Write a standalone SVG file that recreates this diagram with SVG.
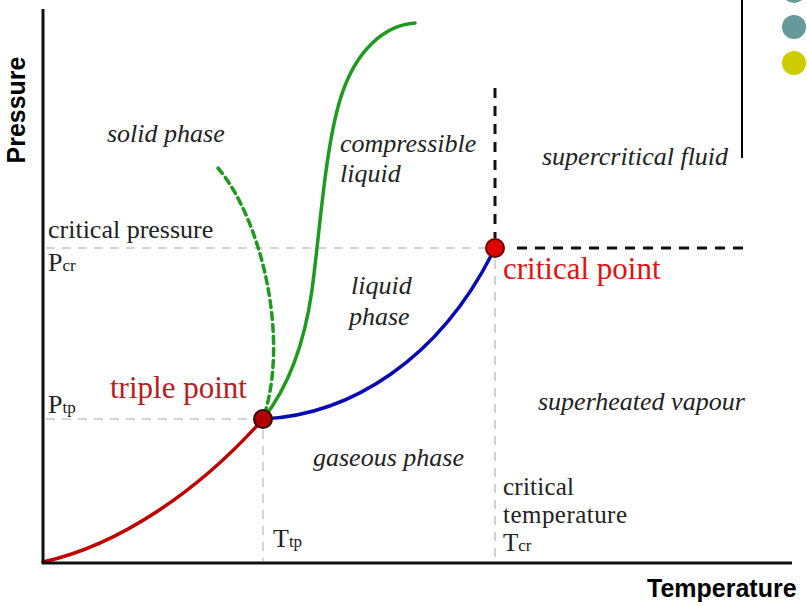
<svg xmlns="http://www.w3.org/2000/svg" width="807" height="606" viewBox="0 0 807 606">
<style>
.lbl{font-family:"Liberation Serif","Times New Roman",serif;font-size:26px;fill:#222}
.it{font-style:italic}
.sub{font-size:17px}
.sm{font-size:25px}
.axis{font-family:"Liberation Sans",Arial,sans-serif;font-weight:bold;font-size:25px;fill:#000}
.grid{stroke:#d4d4d4;stroke-width:2;stroke-dasharray:9,7;fill:none}
.bdash{stroke:#111;stroke-width:3;stroke-dasharray:10,8;fill:none}
.curve{fill:none;stroke-width:3.5;stroke-linecap:round}
</style>
<rect width="807" height="606" fill="#fff"/>
<g id="decor">
<line x1="742" y1="0" x2="742" y2="158" stroke="#000" stroke-width="2"/>
<circle cx="794" cy="-9" r="12" fill="#669999"/>
<circle cx="794" cy="27" r="12" fill="#669999"/>
<circle cx="794" cy="63" r="12" fill="#cccc00"/>
</g>
<g id="connectors">
<line class="grid" x1="46" y1="248" x2="486" y2="248"/>
<line class="grid" x1="46" y1="419" x2="254" y2="419"/>
<line class="grid" x1="263" y1="430" x2="263" y2="561"/>
<line class="grid" x1="495" y1="260" x2="495" y2="561"/>
<line class="bdash" x1="495" y1="88" x2="495" y2="238"/>
<line class="bdash" x1="517" y1="248" x2="748" y2="248"/>
<path class="curve" stroke="#c00000" d="M43,562 C120,545 200,490 263,419"/>
<path class="curve" stroke="#0a0ab4" d="M263,419 C350,415 440,360 495,248"/>
<path class="curve" stroke="#1e9a1e" d="M263,419 C290,385 305,340 312,290 C320,230 325,150 340,100 C355,50 385,25 415,23"/>
<path class="curve" stroke="#1e9a1e" stroke-dasharray="7,5" stroke-linecap="butt" d="M218,168 C262,220 290,340 263,419"/>
</g>
<g id="axes">
<line x1="43" y1="9" x2="43" y2="564" stroke="#111" stroke-width="3"/>
<line x1="42" y1="563" x2="792" y2="563" stroke="#111" stroke-width="3"/>
<text class="axis" x="647" y="597">Temperature</text>
<text class="axis" transform="translate(25,110) rotate(-90)" text-anchor="middle">Pressure</text>
</g>
<g id="triple-point">
<circle cx="263" cy="419" r="9" fill="#b00000" stroke="#3a0000" stroke-width="2"/>
<text class="lbl" x="110" y="398" style="font-size:31px;fill:#b81c1c">triple point</text>
</g>
<g id="critical-point">
<circle cx="495" cy="248" r="9" fill="#e00000" stroke="#700000" stroke-width="2"/>
<text class="lbl" x="503" y="279" style="font-size:31px;fill:#e81010">critical point</text>
</g>
<g id="labels">
<text class="lbl it" x="107" y="142">solid phase</text>
<text class="lbl it" x="340" y="152">compressible</text>
<text class="lbl it" x="340" y="182">liquid</text>
<text class="lbl it" x="542" y="165">supercritical fluid</text>
<text class="lbl it" x="351" y="294">liquid</text>
<text class="lbl it" x="349" y="325">phase</text>
<text class="lbl it" x="538" y="410">superheated vapour</text>
<text class="lbl it" x="313" y="466">gaseous phase</text>
<text class="lbl" x="48" y="238">critical pressure</text>
<text class="lbl" x="48" y="271">P<tspan class="sub">cr</tspan></text>
<text class="lbl" x="48" y="413">P<tspan class="sub">tp</tspan></text>
<text class="lbl" x="273" y="547">T<tspan class="sub">tp</tspan></text>
<text class="lbl sm" x="503" y="495" textLength="71">critical</text>
<text class="lbl sm" x="503" y="523" textLength="124">temperature</text>
<text class="lbl sm" x="503" y="551">T<tspan class="sub">cr</tspan></text>
</g>
</svg>
